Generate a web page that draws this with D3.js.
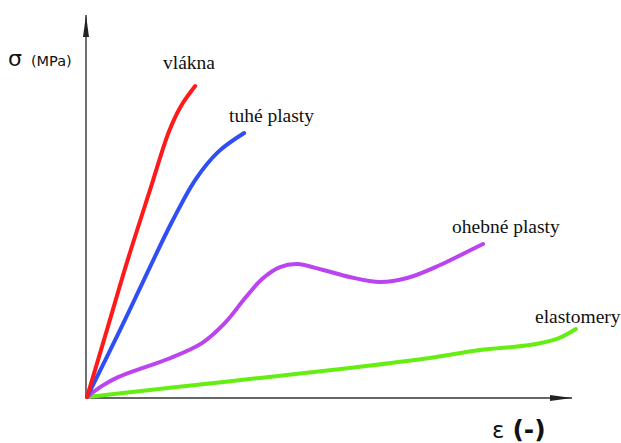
<!DOCTYPE html>
<html><head><meta charset="utf-8">
<script src="https://cdn.jsdelivr.net/npm/d3@7"></script>
<style>body{margin:0;background:#fff}svg{display:block}</style>
</head><body>
<svg id="c" width="621" height="443"></svg>
<script>
const seriesNames = ["vlákna", "tuhé plasty", "ohebné plasty", "elastomery"];
const vlakna = [[0,0],[4.1,17.5],[8.25,35.3],[13.0,54.2],[16.9,69.5],[19.3,76.0],[22.3,81.4]];
const tuhe = [[0,0],[6.8,17.5],[13.2,34.6],[17.5,45.8],[22.3,56.8],[27.0,64.1],[32.4,69.1]];
const ohebne = [[0,0],[3.1,2.9],[6.4,5.2],[12.0,7.85],[16.7,9.95],[23.7,14.1],[28.45,19.4],[32.6,25.9],[36.1,30.9],[39.8,34.0],[43.3,34.8],[48.7,33.25],[54.2,31.4],[60.4,30.1],[66.0,31.15],[72.8,34.55],[77.9,37.7],[81.65,40.05]];
const elastomery = [[0,0],[17.1,2.4],[35.7,5.0],[54.2,7.6],[70.7,10.2],[81.0,12.3],[91.3,13.6],[96.9,15.2],[100.8,17.8]];
const xLabel = ["ε", "(-)"];
const yLabel = ["σ", "(MPa)"];

const svg = d3.select("#c");
const x = d3.scaleLinear().domain([0,100]).range([87,572]);
const y = d3.scaleLinear().domain([0,100]).range([397,15]);

const defs = svg.append("defs");
defs.append("marker").attr("id","arr").attr("viewBox","0 0 22 8").attr("refX",22).attr("refY",4)
  .attr("markerWidth",22).attr("markerHeight",8).attr("markerUnits","userSpaceOnUse").attr("orient","auto")
  .append("path").attr("d","M0,1 L22,4 L0,7 Z").attr("fill","#222");

const x0 = x(0) - 1, y0 = y(0) + 1;
svg.append("line").attr("x1",x0).attr("y1",y0).attr("x2",x(100)).attr("y2",y0)
  .attr("stroke","#333").attr("stroke-width",1.4).attr("marker-end","url(#arr)");
svg.append("line").attr("x1",x0).attr("y1",y0).attr("x2",x0).attr("y2",y(100))
  .attr("stroke","#333").attr("stroke-width",1.4).attr("marker-end","url(#arr)");

const line = d3.line().x(d=>x(d[0])).y(d=>y(d[1])).curve(d3.curveCatmullRom.alpha(0.5));
const series = [
  {data: elastomery, color:"#66ee11"},
  {data: ohebne, color:"#bb44f0"},
  {data: tuhe, color:"#2f4ff2"},
  {data: vlakna, color:"#ff1a1a"}
];
svg.selectAll("path.s").data(series).enter().append("path").attr("class","s")
  .attr("d",d=>line(d.data)).attr("fill","none").attr("stroke",d=>d.color)
  .attr("stroke-width",4).attr("stroke-linecap","round");

const labelPos = [[163,69],[229,122],[452,233],[535,323]];
svg.selectAll("text.lab").data(seriesNames).enter().append("text").attr("class","lab")
  .attr("x",(d,i)=>labelPos[i][0]).attr("y",(d,i)=>labelPos[i][1])
  .attr("font-family","Liberation Serif, Times New Roman, serif").attr("font-size",19.5)
  .attr("fill","#111").text(d=>d);

const yl = svg.append("text").attr("x",8).attr("y",66).attr("font-family","DejaVu Sans, sans-serif").attr("fill","#111");
yl.append("tspan").attr("font-size",22).text(yLabel[0]);
yl.append("tspan").attr("font-size",14.5).attr("dx",9).text(yLabel[1]);

const xl = svg.append("text").attr("x",492).attr("y",438).attr("font-family","DejaVu Sans, sans-serif").attr("fill","#111");
xl.append("tspan").attr("font-size",23).text(xLabel[0]);
xl.append("tspan").attr("font-size",25).attr("font-weight","bold").attr("dx",8).text(xLabel[1]);
</script>
</body></html>
